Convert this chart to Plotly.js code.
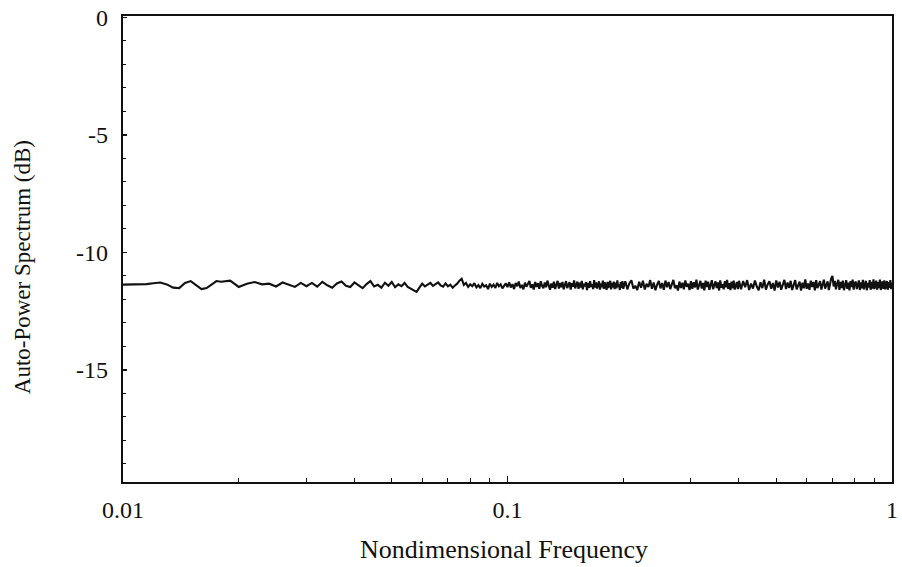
<!DOCTYPE html>
<html>
<head>
<meta charset="utf-8">
<script src="https://cdn.plot.ly/plotly-3.0.1.min.js"></script>
<style>html,body{margin:0;padding:0;background:#fff;}#chart{width:902px;height:567px;}</style>
</head>
<body>
<div id="chart"></div>
<script>
// Segment A: low-frequency smooth wiggles
var freqA = [0.0100,0.0105,0.0110,0.0115,0.0120,0.0125,0.0130,0.0135,0.0140,0.0145,0.0150,0.0155,0.0160,0.0165,0.0170,0.0175,0.0180,0.0190,0.0200,0.0210,0.0220,0.0230,0.0240,0.0250,0.0260,0.0270,0.0280,0.0290,0.0300];
var powerA = [-11.37,-11.37,-11.36,-11.35,-11.31,-11.28,-11.36,-11.50,-11.52,-11.30,-11.22,-11.40,-11.56,-11.52,-11.36,-11.22,-11.25,-11.20,-11.47,-11.33,-11.26,-11.36,-11.33,-11.45,-11.28,-11.36,-11.47,-11.30,-11.44];
// Segment B
var freqB = [0.031,0.032,0.033,0.034,0.035,0.036,0.037,0.038,0.039,0.040,0.041,0.042,0.043,0.044,0.045,0.046,0.047,0.048,0.049,0.050,0.051,0.052,0.053,0.054,0.055,0.056,0.057,0.058,0.059,0.060,0.061,0.062,0.063,0.064,0.065,0.066,0.067,0.068,0.069,0.070,0.071,0.072,0.073,0.074,0.075,0.076,0.077,0.078,0.079,0.080,0.081,0.082,0.083,0.084,0.085,0.086,0.087,0.088,0.089,0.090,0.091,0.092,0.093,0.094,0.095,0.096,0.097,0.098,0.099,0.100];
var powerB = [-11.30,-11.46,-11.25,-11.40,-11.50,-11.32,-11.24,-11.42,-11.47,-11.28,-11.40,-11.52,-11.35,-11.22,-11.45,-11.38,-11.50,-11.29,-11.42,-11.26,-11.48,-11.36,-11.44,-11.30,-11.47,-11.55,-11.62,-11.68,-11.50,-11.33,-11.45,-11.38,-11.30,-11.42,-11.35,-11.28,-11.40,-11.46,-11.32,-11.44,-11.37,-11.50,-11.41,-11.33,-11.20,-11.12,-11.38,-11.30,-11.47,-11.36,-11.44,-11.31,-11.49,-11.39,-11.52,-11.34,-11.45,-11.40,-11.56,-11.33,-11.47,-11.37,-11.51,-11.30,-11.44,-11.36,-11.53,-11.41,-11.32,-11.48];
// Segment C1 (0.101 - 0.200)
var freqC1 = [0.101,0.102,0.103,0.104,0.105,0.106,0.107,0.108,0.109,0.110,
  0.111,0.112,0.113,0.114,0.115,0.116,0.117,0.118,0.119,0.120,
  0.121,0.122,0.123,0.124,0.125,0.126,0.127,0.128,0.129,0.130,
  0.131,0.132,0.133,0.134,0.135,0.136,0.137,0.138,0.139,0.140,
  0.141,0.142,0.143,0.144,0.145,0.146,0.147,0.148,0.149,0.150,
  0.151,0.152,0.153,0.154,0.155,0.156,0.157,0.158,0.159,0.160,
  0.161,0.162,0.163,0.164,0.165,0.166,0.167,0.168,0.169,0.170,
  0.171,0.172,0.173,0.174,0.175,0.176,0.177,0.178,0.179,0.180,
  0.181,0.182,0.183,0.184,0.185,0.186,0.187,0.188,0.189,0.190,
  0.191,0.192,0.193,0.194,0.195,0.196,0.197,0.198,0.199,0.200];
var powerC1 = [-11.27,-11.49,-11.35,-11.56,-11.30,-11.44,-11.24,-11.52,-11.38,-11.57,
  -11.29,-11.46,-11.33,-11.22,-11.51,-11.36,-11.58,-11.26,-11.47,-11.31,
  -11.55,-11.23,-11.42,-11.53,-11.28,-11.48,-11.20,-11.45,-11.59,-11.32,
  -11.50,-11.25,-11.56,-11.37,-11.21,-11.54,-11.30,-11.48,-11.26,-11.57,
  -11.34,-11.22,-11.52,-11.40,-11.27,-11.58,-11.31,-11.46,-11.19,-11.53,
  -11.36,-11.24,-11.55,-11.29,-11.49,-11.21,-11.57,-11.33,-11.45,-11.26,
  -11.60,-11.30,-11.51,-11.22,-11.47,-11.35,-11.56,-11.18,-11.50,-11.28,
  -11.54,-11.37,-11.23,-11.58,-11.32,-11.48,-11.20,-11.55,-11.27,-11.44,
  -11.59,-11.25,-11.52,-11.34,-11.21,-11.57,-11.30,-11.49,-11.24,-11.56,
  -11.29,-11.53,-11.19,-11.47,-11.36,-11.60,-11.26,-11.51,-11.22,-11.55];
// Segment C2 (0.2025 - 0.400)
var freqC2 = [0.2025,0.205,0.2075,0.21,0.2125,0.215,0.2175,0.22,0.2225,0.225,
  0.2275,0.23,0.2325,0.235,0.2375,0.24,0.2425,0.245,0.2475,0.25,
  0.2525,0.255,0.2575,0.26,0.2625,0.265,0.2675,0.27,0.2725,0.275,
  0.2775,0.28,0.2825,0.285,0.2875,0.29,0.2925,0.295,0.2975,0.3,
  0.3025,0.305,0.3075,0.31,0.3125,0.315,0.3175,0.32,0.3225,0.325,
  0.3275,0.33,0.3325,0.335,0.3375,0.34,0.3425,0.345,0.3475,0.35,
  0.3525,0.355,0.3575,0.36,0.3625,0.365,0.3675,0.37,0.3725,0.375,
  0.3775,0.38,0.3825,0.385,0.3875,0.39,0.3925,0.395,0.3975,0.4];
var powerC2 = [-11.23,-11.57,-11.31,-11.19,-11.54,-11.42,-11.60,-11.25,-11.50,-11.21,
  -11.58,-11.34,-11.47,-11.18,-11.55,-11.28,-11.61,-11.37,-11.22,-11.53,
  -11.30,-11.59,-11.20,-11.48,-11.26,-11.56,-11.35,-11.17,-11.52,-11.40,
  -11.62,-11.24,-11.51,-11.29,-11.57,-11.19,-11.46,-11.33,-11.60,-11.22,
  -11.55,-11.27,-11.49,-11.16,-11.58,-11.36,-11.21,-11.54,-11.30,-11.61,
  -11.20,-11.47,-11.25,-11.59,-11.32,-11.18,-11.56,-11.41,-11.23,-11.52,
  -11.28,-11.62,-11.19,-11.50,-11.35,-11.57,-11.22,-11.48,-11.17,-11.55,
  -11.31,-11.60,-11.24,-11.53,-11.20,-11.58,-11.38,-11.26,-11.56,-11.21];
// Segment C3 (0.405 - 1.000)
var freqC3 = [0.405,0.41,0.415,0.42,0.425,0.43,0.435,0.44,0.445,0.45,
  0.455,0.46,0.465,0.47,0.475,0.48,0.485,0.49,0.495,0.50,
  0.505,0.51,0.515,0.52,0.525,0.53,0.535,0.54,0.545,0.55,
  0.555,0.56,0.565,0.57,0.575,0.58,0.585,0.59,0.595,0.60,
  0.605,0.61,0.615,0.62,0.625,0.63,0.635,0.64,0.645,0.65,
  0.655,0.66,0.665,0.67,0.675,0.68,0.685,0.69,0.695,0.70,
  0.705,0.71,0.715,0.72,0.725,0.73,0.735,0.74,0.745,0.75,
  0.755,0.76,0.765,0.77,0.775,0.78,0.785,0.79,0.795,0.80,
  0.805,0.81,0.815,0.82,0.825,0.83,0.835,0.84,0.845,0.85,
  0.855,0.86,0.865,0.87,0.875,0.88,0.885,0.89,0.895,0.90,
  0.905,0.91,0.915,0.92,0.925,0.93,0.935,0.94,0.945,0.95,
  0.955,0.96,0.965,0.97,0.975,0.98,0.985,0.99,0.995,1.00];
var powerC3 = [-11.57,-11.22,-11.48,-11.18,-11.60,-11.33,-11.54,-11.20,-11.45,-11.61,
  -11.27,-11.52,-11.16,-11.58,-11.36,-11.23,-11.55,-11.30,-11.62,-11.19,
  -11.49,-11.25,-11.59,-11.38,-11.17,-11.56,-11.28,-11.51,-11.21,-11.60,
  -11.34,-11.18,-11.57,-11.43,-11.24,-11.62,-11.29,-11.53,-11.15,-11.55,
  -11.32,-11.59,-11.20,-11.47,-11.26,-11.61,-11.18,-11.52,-11.37,-11.22,
  -11.58,-11.30,-11.16,-11.54,-11.41,-11.23,-11.60,-11.27,-11.10,-11.00,
  -11.45,-11.21,-11.57,-11.33,-11.17,-11.59,-11.26,-11.52,-11.20,-11.61,
  -11.36,-11.18,-11.55,-11.29,-11.62,-11.22,-11.48,-11.16,-11.58,-11.31,
  -11.24,-11.56,-11.40,-11.19,-11.60,-11.28,-11.53,-11.17,-11.57,-11.35,
  -11.21,-11.61,-11.30,-11.50,-11.18,-11.59,-11.25,-11.54,-11.15,-11.56,
  -11.38,-11.20,-11.58,-11.27,-11.52,-11.16,-11.60,-11.32,-11.23,-11.55,
  -11.19,-11.57,-11.34,-11.22,-11.59,-11.26,-11.51,-11.18,-11.56,-11.28];

var xTickVals = [0.01, 0.1, 1];
var xTickText = ['0.01', '0.1', '1'];
var xMinorVals = [0.02,0.03,0.04,0.05,0.06,0.07,0.08,0.09,0.2,0.3,0.4,0.5,0.6,0.7,0.8,0.9];
var yTickVals = [0, -5, -10, -15];
var yTickText = ['0', '-5', '-10', '-15'];
var xTitle = 'Nondimensional Frequency';
var yTitle = 'Auto-Power Spectrum (dB)';

var freq = freqA.concat(freqB, freqC1, freqC2, freqC3);
var power = powerA.concat(powerB, powerC1, powerC2, powerC3);

var fontFam = 'Liberation Serif, Times New Roman, DejaVu Serif, serif';
var trace = {x: freq, y: power, type: 'scatter', mode: 'lines',
  line: {color: '#111', width: 2.1}, hoverinfo: 'skip'};

var layout = {
  width: 902, height: 567,
  margin: {l: 123, r: 10, t: 16, b: 85, pad: 0},
  paper_bgcolor: '#fff', plot_bgcolor: '#fff',
  showlegend: false,
  font: {family: fontFam, size: 24, color: '#111'},
  xaxis: {type: 'log', range: [-2, 0], tickmode: 'array', tickvals: xTickVals, ticktext: xTickText,
    ticks: 'inside', ticklen: 6, tickwidth: 1.2, tickcolor: '#111',
    showline: true, mirror: true, linecolor: '#111', linewidth: 2.2,
    showgrid: false, zeroline: false, ticklabelstandoff: 5,
    tickfont: {family: fontFam, size: 24, color: '#111'},
    minor: {tickmode: 'array', tickvals: xMinorVals, ticks: 'inside', ticklen: 4, tickwidth: 1, tickcolor: '#111', showgrid: false}},
  yaxis: {range: [-19.77, 0.06], tickmode: 'array', tickvals: yTickVals, ticktext: yTickText,
    ticks: 'inside', ticklen: 4, tickwidth: 1.2, tickcolor: '#111',
    showline: true, mirror: true, linecolor: '#111', linewidth: 2.2,
    showgrid: false, zeroline: false, ticklabelstandoff: 8,
    tickfont: {family: fontFam, size: 24, color: '#111'},
    minor: {dtick: 1, tick0: 0, ticks: 'inside', ticklen: 3, tickwidth: 1, tickcolor: '#111', showgrid: false}},
  annotations: [
    {text: xTitle, xref: 'paper', yref: 'paper', x: 0.4954, y: -0.1438,
      xanchor: 'center', yanchor: 'middle', showarrow: false,
      font: {family: fontFam, size: 26, color: '#111'}},
    {text: yTitle, xref: 'paper', yref: 'paper', x: -0.1313, y: 0.461,
      xanchor: 'center', yanchor: 'middle', showarrow: false, textangle: -90,
      font: {family: fontFam, size: 23, color: '#111'}}
  ]
};

Plotly.newPlot('chart', [trace], layout, {staticPlot: true, displayModeBar: false});
</script>
</body>
</html>
